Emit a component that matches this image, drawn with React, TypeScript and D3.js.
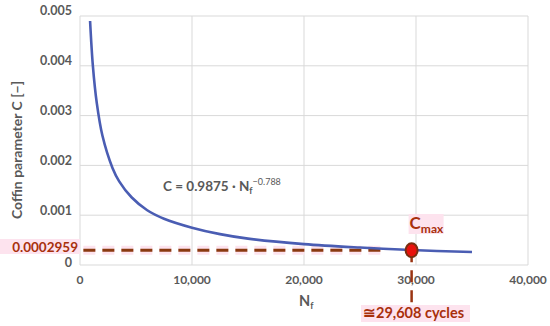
import { useEffect, useRef } from 'react';
import * as d3 from 'd3';

// curve (cycles, C)
const cycles = [900, 1150, 1500, 2000, 2900, 3500, 4600, 6000, 7500, 10000, 12500, 15000, 20000, 25000, 29608, 35000];
const coffinC = [0.0049, 0.004, 0.00325, 0.0026, 0.00195, 0.00168, 0.00136, 0.0011, 0.00093, 0.00075, 0.00062, 0.00053, 0.00042, 0.00035, 0.0003, 0.00026];

const xTicks = [0, 10000, 20000, 30000, 40000];
const yTicks = [0, 0.001, 0.002, 0.003, 0.004, 0.005];

const cMax = 0.0002959;
const nAtCMax = 29608;

const W = 550;
const H = 326;
const FONT = 'Lato, "Open Sans", sans-serif';
const GREY = '#595959';
const RED = '#a8300c';
const PINK = '#fde3ee';

export default function App() {
  const svgRef = useRef<SVGSVGElement>(null);

  useEffect(() => {
    const svg = d3.select(svgRef.current);
    svg.selectAll('*').remove();

    const x = d3.scaleLinear().domain([0, 40000]).range([80, 528]);
    const y = d3.scaleLinear().domain([0, 0.005]).range([265, 16]);

    const g = svg.append('g').attr('font-family', FONT).attr('font-weight', 700);

    // grid
    g.selectAll('line.hg')
      .data(yTicks)
      .join('line')
      .attr('x1', x(0))
      .attr('x2', x(40000))
      .attr('y1', (d) => y(d))
      .attr('y2', (d) => y(d))
      .attr('stroke', '#d9d9d9')
      .attr('stroke-width', 1);
    g.selectAll('line.vg')
      .data(xTicks)
      .join('line')
      .attr('x1', (d) => x(d))
      .attr('x2', (d) => x(d))
      .attr('y1', y(0))
      .attr('y2', y(0.005))
      .attr('stroke', '#d9d9d9')
      .attr('stroke-width', 1);

    // tick labels
    g.selectAll('text.yt')
      .data(yTicks)
      .join('text')
      .attr('x', 72)
      .attr('y', (d) => y(d) - (d === 0 ? 2 : 5))
      .attr('dy', '0.35em')
      .attr('text-anchor', 'end')
      .attr('font-size', 12.5)
      .attr('fill', GREY)
      .text((d) => (d === 0 ? '0' : d3.format('.3f')(d)));
    g.selectAll('text.xt')
      .data(xTicks)
      .join('text')
      .attr('x', (d) => x(d))
      .attr('y', 284)
      .attr('text-anchor', 'middle')
      .attr('font-size', 12)
      .attr('fill', GREY)
      .text((d) => d3.format(',')(d));

    // axis titles
    g.append('text')
      .attr('transform', 'translate(22,150) rotate(-90)')
      .attr('text-anchor', 'middle')
      .attr('font-size', 14)
      .attr('fill', GREY)
      .text('Coffin parameter C [−]');
    const xt = g.append('text').attr('x', 299).attr('y', 306).attr('font-size', 14.5).attr('fill', GREY);
    xt.append('tspan').text('N');
    xt.append('tspan').attr('font-size', 9).attr('dy', 3).text('f');

    // equation
    const eq = g.append('text').attr('x', 163).attr('y', 191).attr('font-size', 13.5).attr('fill', GREY);
    eq.append('tspan').text('C = 0.9875 · N');
    eq.append('tspan').attr('font-size', 9).attr('dy', 3).text('f');
    eq.append('tspan').attr('font-size', 9).attr('dy', -9).attr('font-weight', 400).text('−0.788');

    // dashed Cmax level
    const dashY = y(cMax);
    g.append('line')
      .attr('x1', x(300))
      .attr('x2', x(27000))
      .attr('y1', dashY)
      .attr('y2', dashY)
      .attr('stroke', PINK)
      .attr('stroke-width', 9)
      .attr('stroke-dasharray', '12 7');
    g.append('line')
      .attr('x1', x(300))
      .attr('x2', x(27000))
      .attr('y1', dashY)
      .attr('y2', dashY)
      .attr('stroke', '#8a3a10')
      .attr('stroke-width', 3)
      .attr('stroke-dasharray', '12 7');

    // curve
    const pts = cycles.map((n, i) => [n, coffinC[i]] as [number, number]);
    const line = d3
      .line<[number, number]>()
      .x((d) => x(d[0]))
      .y((d) => y(d[1]))
      .curve(d3.curveCatmullRom.alpha(0.5));
    g.append('path')
      .datum(pts)
      .attr('d', line)
      .attr('fill', 'none')
      .attr('stroke', '#4a5db3')
      .attr('stroke-width', 2.6);

    // value label on the left
    g.append('rect').attr('x', 0).attr('y', 239).attr('width', 80).attr('height', 15).attr('fill', PINK);
    g.append('text')
      .attr('x', 78)
      .attr('y', dashY - 3)
      .attr('dy', '0.35em')
      .attr('text-anchor', 'end')
      .attr('font-size', 13.5)
      .attr('fill', RED)
      .text(d3.format('.7f')(cMax));

    // vertical marker line
    const mx = x(nAtCMax);
    g.append('line')
      .attr('x1', mx)
      .attr('x2', mx)
      .attr('y1', dashY)
      .attr('y2', 304)
      .attr('stroke', '#9a3412')
      .attr('stroke-width', 2.5)
      .attr('stroke-dasharray', '12 8');

    // marker
    g.append('ellipse')
      .attr('cx', mx)
      .attr('cy', dashY)
      .attr('rx', 6)
      .attr('ry', 7)
      .attr('fill', '#e8120c')
      .attr('stroke', '#7a2e10')
      .attr('stroke-width', 2);

    // Cmax label
    g.append('rect').attr('x', mx - 3).attr('y', 214).attr('width', 35).attr('height', 20).attr('fill', PINK);
    const cm = g.append('text').attr('x', mx - 2).attr('y', 229).attr('font-size', 17).attr('fill', RED);
    cm.append('tspan').text('C');
    cm.append('tspan').attr('font-size', 12).attr('dy', 4).text('max');

    // cycles label
    g.append('rect').attr('x', 361).attr('y', 305).attr('width', 109).attr('height', 17).attr('fill', PINK);
    g.append('text')
      .attr('x', 363)
      .attr('y', 318)
      .attr('font-size', 14.5)
      .attr('fill', RED)
      .text(`≅${d3.format(',')(nAtCMax)}  cycles`);
  }, []);

  return (
    <div style={{ position: 'fixed', left: 0, top: 0 }}>
      <svg ref={svgRef} width={W} height={H} style={{ display: 'block', background: '#fff' }} />
    </div>
  );
}
